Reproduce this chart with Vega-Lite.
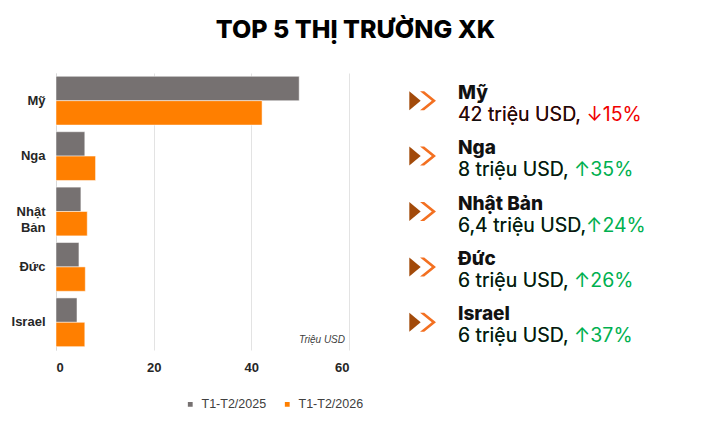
{
  "$schema": "https://vega.github.io/schema/vega-lite/v6.json",
  "background": "white",
  "padding": {"left": 11, "top": 18, "right": 5, "bottom": 5},
  "title": {"text": "TOP 5 THỊ TRƯỜNG XK", "font": "Inter", "fontSize": 25, "fontWeight": 800, "color": "#000000", "anchor": "middle", "offset": 30, "dx": 27},
  "config": {"view": {"stroke": null}},
  "datasets": {
    "bars": [
      {"country": "Mỹ", "period": "T1-T2/2025", "value": 49.8},
      {"country": "Mỹ", "period": "T1-T2/2026", "value": 42.2},
      {"country": "Nga", "period": "T1-T2/2025", "value": 5.9},
      {"country": "Nga", "period": "T1-T2/2026", "value": 8.1},
      {"country": "Nhật Bản", "period": "T1-T2/2025", "value": 5.1},
      {"country": "Nhật Bản", "period": "T1-T2/2026", "value": 6.4},
      {"country": "Đức", "period": "T1-T2/2025", "value": 4.7},
      {"country": "Đức", "period": "T1-T2/2026", "value": 6.0},
      {"country": "Israel", "period": "T1-T2/2025", "value": 4.3},
      {"country": "Israel", "period": "T1-T2/2026", "value": 5.9}
    ],
    "info": [
      {"country": "Mỹ", "line": "42 triệu USD,", "full": "42 triệu USD, ↓15%", "dir": "down"},
      {"country": "Nga", "line": "8 triệu USD,", "full": "8 triệu USD, ↑35%", "dir": "up"},
      {"country": "Nhật Bản", "line": "6,4 triệu USD,", "full": "6,4 triệu USD,↑24%", "dir": "up"},
      {"country": "Đức", "line": "6 triệu USD,", "full": "6 triệu USD, ↑26%", "dir": "up"},
      {"country": "Israel", "line": "6 triệu USD,", "full": "6 triệu USD, ↑37%", "dir": "up"}
    ]
  },
  "spacing": 37,
  "hconcat": [
    {
      "width": 293,
      "height": 277,
      "layer": [
        {
          "data": {"name": "bars"},
          "mark": {"type": "bar", "stroke": "white", "strokeWidth": 0.5},
          "encoding": {
            "y": {
              "field": "country", "type": "nominal",
              "sort": ["Mỹ", "Nga", "Nhật Bản", "Đức", "Israel"],
              "scale": {"paddingInner": 0.12, "paddingOuter": 0.06},
              "axis": {
                "title": null, "ticks": false, "domainColor": "#d9d9d9", "labelPadding": 11,
                "labelFont": "Liberation Sans", "labelFontWeight": "bold", "labelFontSize": 13,
                "labelColor": "#262626", "labelLineHeight": 16,
                "labelExpr": "datum.value == 'Nhật Bản' ? ['Nhật', 'Bản'] : datum.value"
              }
            },
            "yOffset": {"field": "period", "type": "nominal", "sort": ["T1-T2/2025", "T1-T2/2026"]},
            "x": {
              "field": "value", "type": "quantitative",
              "scale": {"domain": [0, 60]},
              "axis": {
                "title": null, "values": [0, 20, 40, 60], "grid": true, "gridColor": "#e3e3e3",
                "domain": false, "ticks": false, "labelPadding": 11,
                "labelFont": "Liberation Sans", "labelFontWeight": "bold", "labelFontSize": 13, "labelColor": "#262626"
              }
            },
            "color": {
              "field": "period", "type": "nominal",
              "scale": {"domain": ["T1-T2/2025", "T1-T2/2026"], "range": ["#767171", "#FF7F00"]},
              "legend": {
                "title": null, "orient": "none", "direction": "horizontal", "legendX": 128, "legendY": 325,
                "symbolType": "square", "symbolSize": 40, "columnPadding": 14, "labelOffset": 5,
                "labelFont": "Liberation Sans", "labelFontSize": 12.5, "labelColor": "#404040"
              }
            }
          }
        },
        {
          "data": {"values": [{"note": "Triệu USD"}]},
          "mark": {"type": "text", "align": "right", "baseline": "bottom", "dx": -4, "dy": 23, "font": "Liberation Sans", "fontStyle": "italic", "fontSize": 10, "color": "#404040"},
          "encoding": {
            "x": {"datum": 60, "type": "quantitative"},
            "y": {"datum": "Israel", "type": "nominal"},
            "text": {"field": "note"}
          }
        }
      ]
    },
    {
      "width": 260,
      "height": 277,
      "data": {"name": "info"},
      "encoding": {
        "y": {
          "field": "country", "type": "nominal",
          "sort": ["Mỹ", "Nga", "Nhật Bản", "Đức", "Israel"],
          "scale": {"paddingInner": 0.12, "paddingOuter": 0.06},
          "axis": null
        }
      },
      "layer": [
        {
          "mark": {"type": "point", "shape": "M -0.6 -1 L 0.6 0 L -0.6 1 Z", "filled": true, "color": "#A24A0A", "size": 361, "opacity": 1},
          "encoding": {"x": {"datum": 29, "type": "quantitative", "scale": {"domain": [0, 260]}, "axis": null}}
        },
        {
          "mark": {"type": "point", "shape": "M -0.84 -1 L -0.4 -1 L 0.84 0 L -0.4 1 L -0.84 1 L 0.4 0 Z", "filled": true, "color": "#F37021", "size": 361, "opacity": 1},
          "encoding": {"x": {"datum": 42, "type": "quantitative"}}
        },
        {
          "mark": {"type": "text", "align": "left", "baseline": "alphabetic", "dy": -2, "font": "Inter", "fontWeight": 800, "fontSize": 19, "color": "#111111"},
          "encoding": {"x": {"datum": 72, "type": "quantitative"}, "text": {"field": "country"}}
        },
        {
          "mark": {"type": "text", "align": "left", "baseline": "alphabetic", "dy": 20, "font": "Inter", "fontSize": 19.5},
          "encoding": {
            "x": {"datum": 72, "type": "quantitative"},
            "text": {"field": "full"},
            "color": {"condition": {"test": "datum.dir == 'down'", "value": "#F00000"}, "value": "#00B050"}
          }
        },
        {
          "mark": {"type": "text", "align": "left", "baseline": "alphabetic", "dy": 20, "font": "Inter", "fontSize": 19.5, "color": "#111111"},
          "encoding": {"x": {"datum": 72, "type": "quantitative"}, "text": {"field": "line"}}
        }
      ]
    }
  ]
}
